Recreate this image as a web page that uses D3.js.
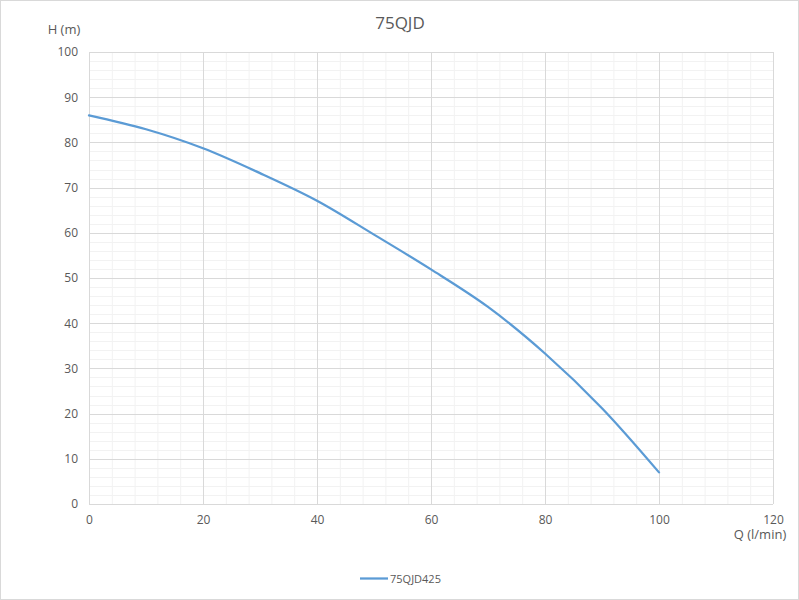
<!DOCTYPE html>
<html><head><meta charset="utf-8">
<script src="https://cdn.jsdelivr.net/npm/d3@7"></script>
<style>body{margin:0;background:#fff}text{font-family:"Open Sans","Noto Sans",sans-serif;fill:#595959}</style>
</head><body><svg id="c" width="799" height="600"></svg>
<script>
const flowQ = [0, 10, 20, 30, 40, 50, 60, 70, 80, 90, 100];
const headH = [86, 82.9, 78.7, 73.2, 67.1, 59.6, 51.9, 43.6, 33.3, 21.2, 7];
const xTicks = [0, 20, 40, 60, 80, 100, 120];
const yTicks = [0, 10, 20, 30, 40, 50, 60, 70, 80, 90, 100];
const seriesName = "75QJD425";
const title = "75QJD";

const svg = d3.select("#c");
svg.append("rect").attr("x",0.5).attr("y",0.5).attr("width",798).attr("height",599).attr("fill","#fff").attr("stroke","#d9d9d9");
const L=89,R=773,T=52,B=504;
const x = d3.scaleLinear().domain([0,120]).range([L,R]);
const y = d3.scaleLinear().domain([0,100]).range([B,T]);
const g = svg.append("g");
g.selectAll(".mx").data(d3.range(0,121,4).filter(v=>v%20)).enter().append("line")
 .attr("x1",d=>x(d)+0.5).attr("x2",d=>x(d)+0.5).attr("y1",T).attr("y2",B).attr("stroke","#f2f2f2");
g.selectAll(".my").data(d3.range(0,101,2).filter(v=>v%10)).enter().append("line")
 .attr("y1",d=>Math.round(y(d))+0.5).attr("y2",d=>Math.round(y(d))+0.5).attr("x1",L).attr("x2",R).attr("stroke","#f2f2f2");
g.selectAll(".Mx").data(xTicks).enter().append("line")
 .attr("x1",d=>x(d)+0.5).attr("x2",d=>x(d)+0.5).attr("y1",T).attr("y2",B).attr("stroke","#d9d9d9");
g.selectAll(".My").data(yTicks).enter().append("line")
 .attr("y1",d=>Math.round(y(d))+0.5).attr("y2",d=>Math.round(y(d))+0.5).attr("x1",L).attr("x2",R).attr("stroke","#d9d9d9");
const xa = svg.append("g").attr("transform",`translate(0,${B})`).call(d3.axisBottom(x).tickValues(xTicks).tickSize(0).tickPadding(11));
xa.select(".domain").remove();
xa.selectAll("text").attr("font-size",12).style("fill","#595959");
const ya = svg.append("g").attr("transform",`translate(${L},0)`).call(d3.axisLeft(y).tickValues(yTicks).tickSize(0).tickPadding(11));
ya.select(".domain").remove();
ya.selectAll("text").attr("font-size",12).style("fill","#595959");
svg.selectAll(".tick text").attr("font-family",'"Open Sans","Noto Sans",sans-serif');
const pts = flowQ.map((q,i)=>[q,headH[i]]);
svg.append("path").datum(pts).attr("fill","none").attr("stroke","#5b9bd5").attr("stroke-width",2.25)
 .attr("stroke-linecap","round")
 .attr("d",d3.line().x(d=>x(d[0])).y(d=>y(d[1])).curve(d3.curveCatmullRom.alpha(0.5)));
svg.append("text").attr("x",400).attr("y",29).attr("text-anchor","middle").attr("font-size",17).text(title);
svg.append("text").attr("x",64).attr("y",34).attr("text-anchor","middle").attr("font-size",13).text("H (m)");
svg.append("text").attr("x",760).attr("y",539).attr("text-anchor","middle").attr("font-size",13).text("Q (l/min)");
svg.append("line").attr("x1",360).attr("x2",388).attr("y1",578.5).attr("y2",578.5).attr("stroke","#5b9bd5").attr("stroke-width",2.25);
svg.append("text").attr("x",390).attr("y",582.5).attr("font-size",11).text(seriesName);
</script></body></html>
